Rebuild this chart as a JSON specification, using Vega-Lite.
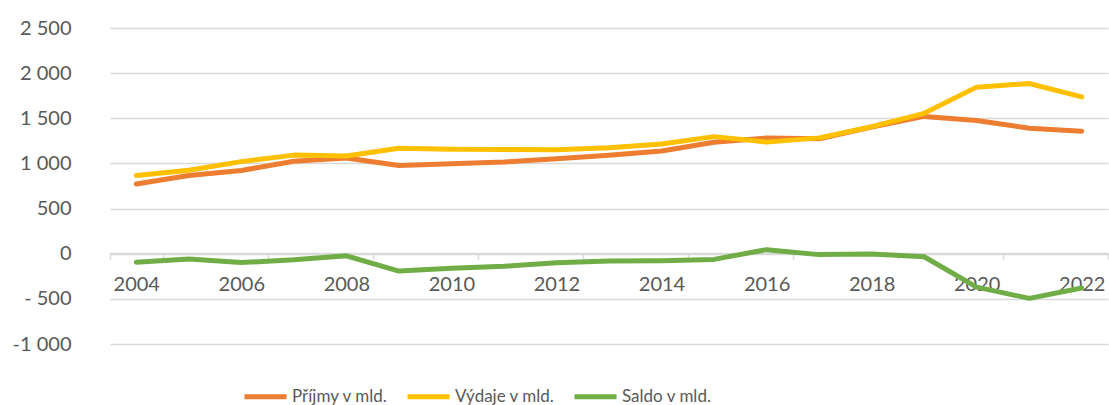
{
  "$schema": "https://vega.github.io/schema/vega-lite/v6.json",
  "width": 998,
  "height": 316,
  "autosize": {"type": "none"},
  "padding": {"left": 110, "top": 28, "right": 1, "bottom": 61},
  "background": "white",
  "config": {"font": "Lato", "view": {"stroke": null}},
  "data": {"values": [
    {"year": 2004, "series": "Příjmy v mld.", "value": 772},
    {"year": 2005, "series": "Příjmy v mld.", "value": 866},
    {"year": 2006, "series": "Příjmy v mld.", "value": 922},
    {"year": 2007, "series": "Příjmy v mld.", "value": 1025},
    {"year": 2008, "series": "Příjmy v mld.", "value": 1060},
    {"year": 2009, "series": "Příjmy v mld.", "value": 976},
    {"year": 2010, "series": "Příjmy v mld.", "value": 996},
    {"year": 2011, "series": "Příjmy v mld.", "value": 1015},
    {"year": 2012, "series": "Příjmy v mld.", "value": 1052},
    {"year": 2013, "series": "Příjmy v mld.", "value": 1091},
    {"year": 2014, "series": "Příjmy v mld.", "value": 1137},
    {"year": 2015, "series": "Příjmy v mld.", "value": 1234},
    {"year": 2016, "series": "Příjmy v mld.", "value": 1281},
    {"year": 2017, "series": "Příjmy v mld.", "value": 1273},
    {"year": 2018, "series": "Příjmy v mld.", "value": 1404},
    {"year": 2019, "series": "Příjmy v mld.", "value": 1521},
    {"year": 2020, "series": "Příjmy v mld.", "value": 1475},
    {"year": 2021, "series": "Příjmy v mld.", "value": 1390},
    {"year": 2022, "series": "Příjmy v mld.", "value": 1357},
    {"year": 2004, "series": "Výdaje v mld.", "value": 866},
    {"year": 2005, "series": "Výdaje v mld.", "value": 925},
    {"year": 2006, "series": "Výdaje v mld.", "value": 1020},
    {"year": 2007, "series": "Výdaje v mld.", "value": 1092},
    {"year": 2008, "series": "Výdaje v mld.", "value": 1083},
    {"year": 2009, "series": "Výdaje v mld.", "value": 1168},
    {"year": 2010, "series": "Výdaje v mld.", "value": 1156},
    {"year": 2011, "series": "Výdaje v mld.", "value": 1155},
    {"year": 2012, "series": "Výdaje v mld.", "value": 1152},
    {"year": 2013, "series": "Výdaje v mld.", "value": 1173},
    {"year": 2014, "series": "Výdaje v mld.", "value": 1215},
    {"year": 2015, "series": "Výdaje v mld.", "value": 1297},
    {"year": 2016, "series": "Výdaje v mld.", "value": 1236},
    {"year": 2017, "series": "Výdaje v mld.", "value": 1283},
    {"year": 2018, "series": "Výdaje v mld.", "value": 1407},
    {"year": 2019, "series": "Výdaje v mld.", "value": 1555},
    {"year": 2020, "series": "Výdaje v mld.", "value": 1845},
    {"year": 2021, "series": "Výdaje v mld.", "value": 1885},
    {"year": 2022, "series": "Výdaje v mld.", "value": 1737},
    {"year": 2004, "series": "Saldo v mld.", "value": -94},
    {"year": 2005, "series": "Saldo v mld.", "value": -59},
    {"year": 2006, "series": "Saldo v mld.", "value": -98},
    {"year": 2007, "series": "Saldo v mld.", "value": -67},
    {"year": 2008, "series": "Saldo v mld.", "value": -23},
    {"year": 2009, "series": "Saldo v mld.", "value": -192},
    {"year": 2010, "series": "Saldo v mld.", "value": -160},
    {"year": 2011, "series": "Saldo v mld.", "value": -140},
    {"year": 2012, "series": "Saldo v mld.", "value": -100},
    {"year": 2013, "series": "Saldo v mld.", "value": -82},
    {"year": 2014, "series": "Saldo v mld.", "value": -78},
    {"year": 2015, "series": "Saldo v mld.", "value": -63},
    {"year": 2016, "series": "Saldo v mld.", "value": 45},
    {"year": 2017, "series": "Saldo v mld.", "value": -10},
    {"year": 2018, "series": "Saldo v mld.", "value": -3},
    {"year": 2019, "series": "Saldo v mld.", "value": -34},
    {"year": 2020, "series": "Saldo v mld.", "value": -370},
    {"year": 2021, "series": "Saldo v mld.", "value": -495},
    {"year": 2022, "series": "Saldo v mld.", "value": -380}
  ]},
  "mark": {"type": "line", "strokeWidth": 5, "strokeCap": "round", "strokeJoin": "round"},
  "encoding": {
    "x": {
      "field": "year",
      "type": "ordinal",
      "bandPosition": 0.5,
      "scale": {"type": "band", "paddingInner": 0, "paddingOuter": 0},
      "axis": {
        "title": null,
        "values": [2004, 2006, 2008, 2010, 2012, 2014, 2016, 2018, 2020, 2022],
        "tickBand": "extent",
        "labelAngle": 0,
        "offset": -91,
        "grid": false,
        "domainColor": "#d9d9d9",
        "domainWidth": 1.5,
        "tickColor": "#d9d9d9",
        "tickWidth": 1.5,
        "tickSize": 6,
        "labelFontSize": 20,
        "labelColor": "#595959",
        "labelPadding": 15
      }
    },
    "y": {
      "field": "value",
      "type": "quantitative",
      "scale": {"domain": [-1000, 2500], "nice": false, "zero": false},
      "axis": {
        "title": null,
        "values": [-1000, -500, 0, 500, 1000, 1500, 2000, 2500],
        "labelExpr": "datum.value == 2500 ? '2 500' : datum.value == 2000 ? '2 000' : datum.value == 1500 ? '1 500' : datum.value == 1000 ? '1 000' : datum.value == 500 ? '500' : datum.value == 0 ? '0' : datum.value == -500 ? '- 500' : '-1 000'",
        "domain": false,
        "ticks": false,
        "gridColor": "#d9d9d9",
        "gridWidth": 1.5,
        "labelPadding": 39,
        "labelFontSize": 20,
        "labelColor": "#595959"
      }
    },
    "color": {
      "field": "series",
      "type": "nominal",
      "sort": ["Příjmy v mld.", "Výdaje v mld.", "Saldo v mld."],
      "scale": {"domain": ["Příjmy v mld.", "Výdaje v mld.", "Saldo v mld."], "range": ["#ED7D31", "#FFC000", "#70AD47"]},
      "legend": {
        "title": null,
        "orient": "none",
        "legendX": 132,
        "legendY": 345,
        "direction": "horizontal",
        "symbolType": "stroke",
        "symbolStrokeWidth": 5,
        "symbolSize": 1764,
        "labelFontSize": 17,
        "labelColor": "#595959",
        "labelOffset": 3,
        "columnPadding": 9
      }
    }
  }
}
